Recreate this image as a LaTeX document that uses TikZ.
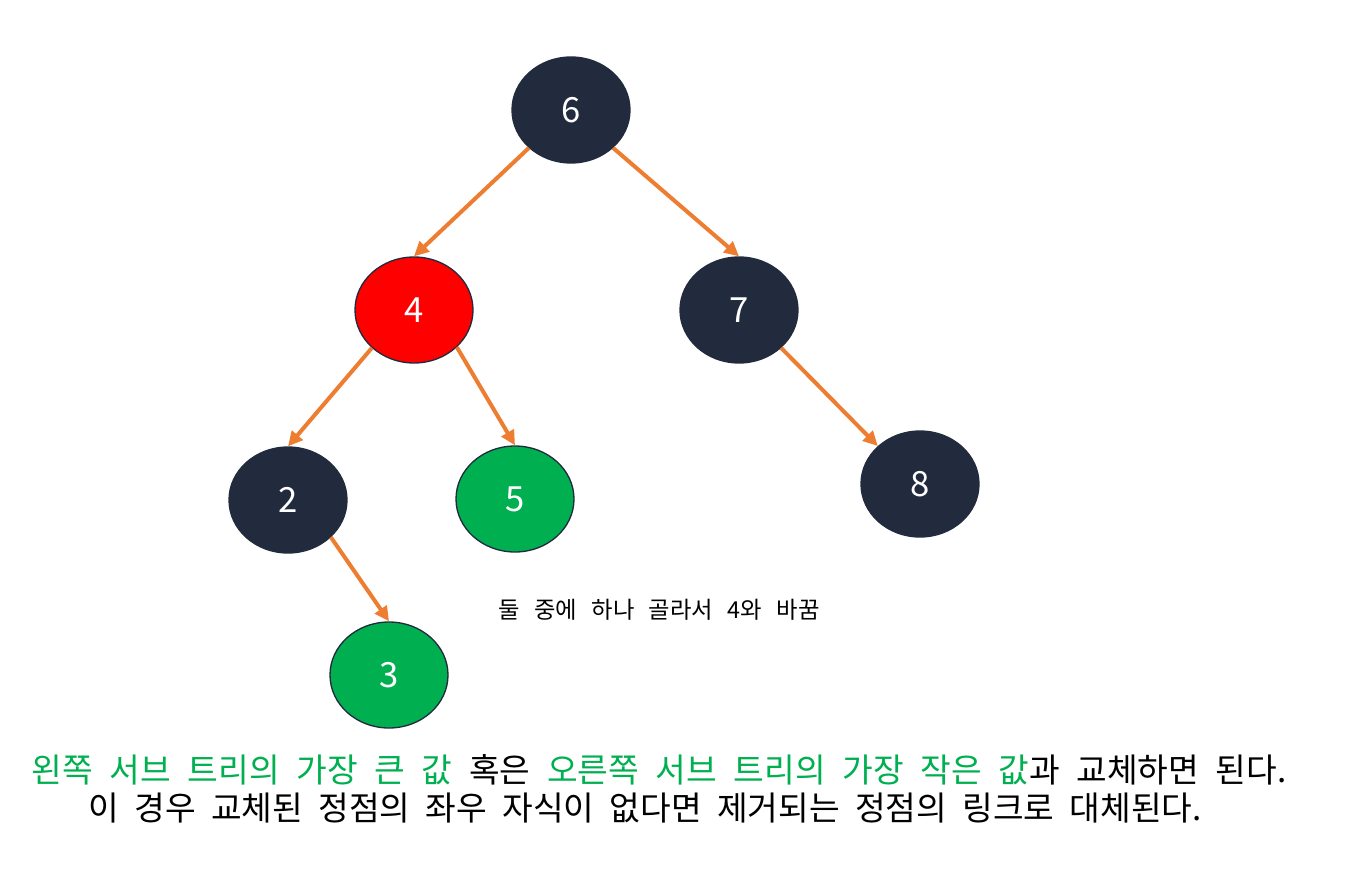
\documentclass[tikz,border=0pt]{standalone}
\usepackage{fontspec}
\setmainfont{Noto Sans CJK KR}
\newcommand\bigtxtfont{\fontsize{25}{30}\selectfont\spaceskip 12.5pt\relax}
\newcommand\smalltxtfont{\fontsize{17.5}{20}\selectfont\spaceskip 10.8pt\relax}
\usetikzlibrary{arrows.meta,shapes.geometric}
\definecolor{navy}{HTML}{212B3D}
\definecolor{ogreen}{HTML}{00B050}
\definecolor{orng}{HTML}{ED7D31}
\tikzset{
  vtx/.style={ellipse, minimum width=88.5pt, minimum height=79.5pt, inner sep=0pt,
    draw=navy, line width=1pt, text=white, font=\fontsize{26}{30}\selectfont},
  darkv/.style={vtx, fill=navy},
  redv/.style={vtx, fill=red},
  greenv/.style={vtx, fill=ogreen},
  edge/.style={draw=orng, line width=3pt, -{Triangle[length=11pt,width=10.5pt]}},
  bigtext/.style={inner sep=0pt, font=\bigtxtfont},
  smalltext/.style={inner sep=0pt, font=\smalltxtfont},
}
\begin{document}
\begin{tikzpicture}[x=0.75pt,y=-0.75pt]
\useasboundingbox (0,0) rectangle (1345,884);
\node[darkv]  (n6) at (571,110) {6};
\node[redv]   (n4) at (414,310) {4};
\node[darkv]  (n7) at (739,310) {7};
\node[darkv]  (n2) at (288,500) {2};
\node[greenv] (n5) at (515,499) {5};
\node[darkv]  (n8) at (920,484) {8};
\node[greenv] (n3) at (389,675) {3};
\draw[edge] (n6.222) -- (n4.north);
\draw[edge] (n6.-42) -- (n7.north);
\draw[edge] (n4.222) -- (n2.north);
\draw[edge] (n4.-41) -- (n5.north);
\draw[edge] (n7.-42) -- (n8.138);
\draw[edge] (n2.-41) -- (n3.north);
\node[smalltext] (note) at (659,610) {둘 중에 하나 골라서 4와 바꿈};
\node[bigtext] (line1) at (659,770)
  {\textcolor{ogreen}{왼쪽 서브 트리의 가장 큰 값} 혹은 \textcolor{ogreen}{오른쪽 서브 트리의 가장 작은 값}과 교체하면 된다.};
\node[bigtext] (line2) at (645,808)
  {\spaceskip 11.5pt\relax 이 경우 교체된 정점의 좌우 자식이 없다면 제거되는 정점의 링크로 대체된다.};
\end{tikzpicture}
\end{document}
